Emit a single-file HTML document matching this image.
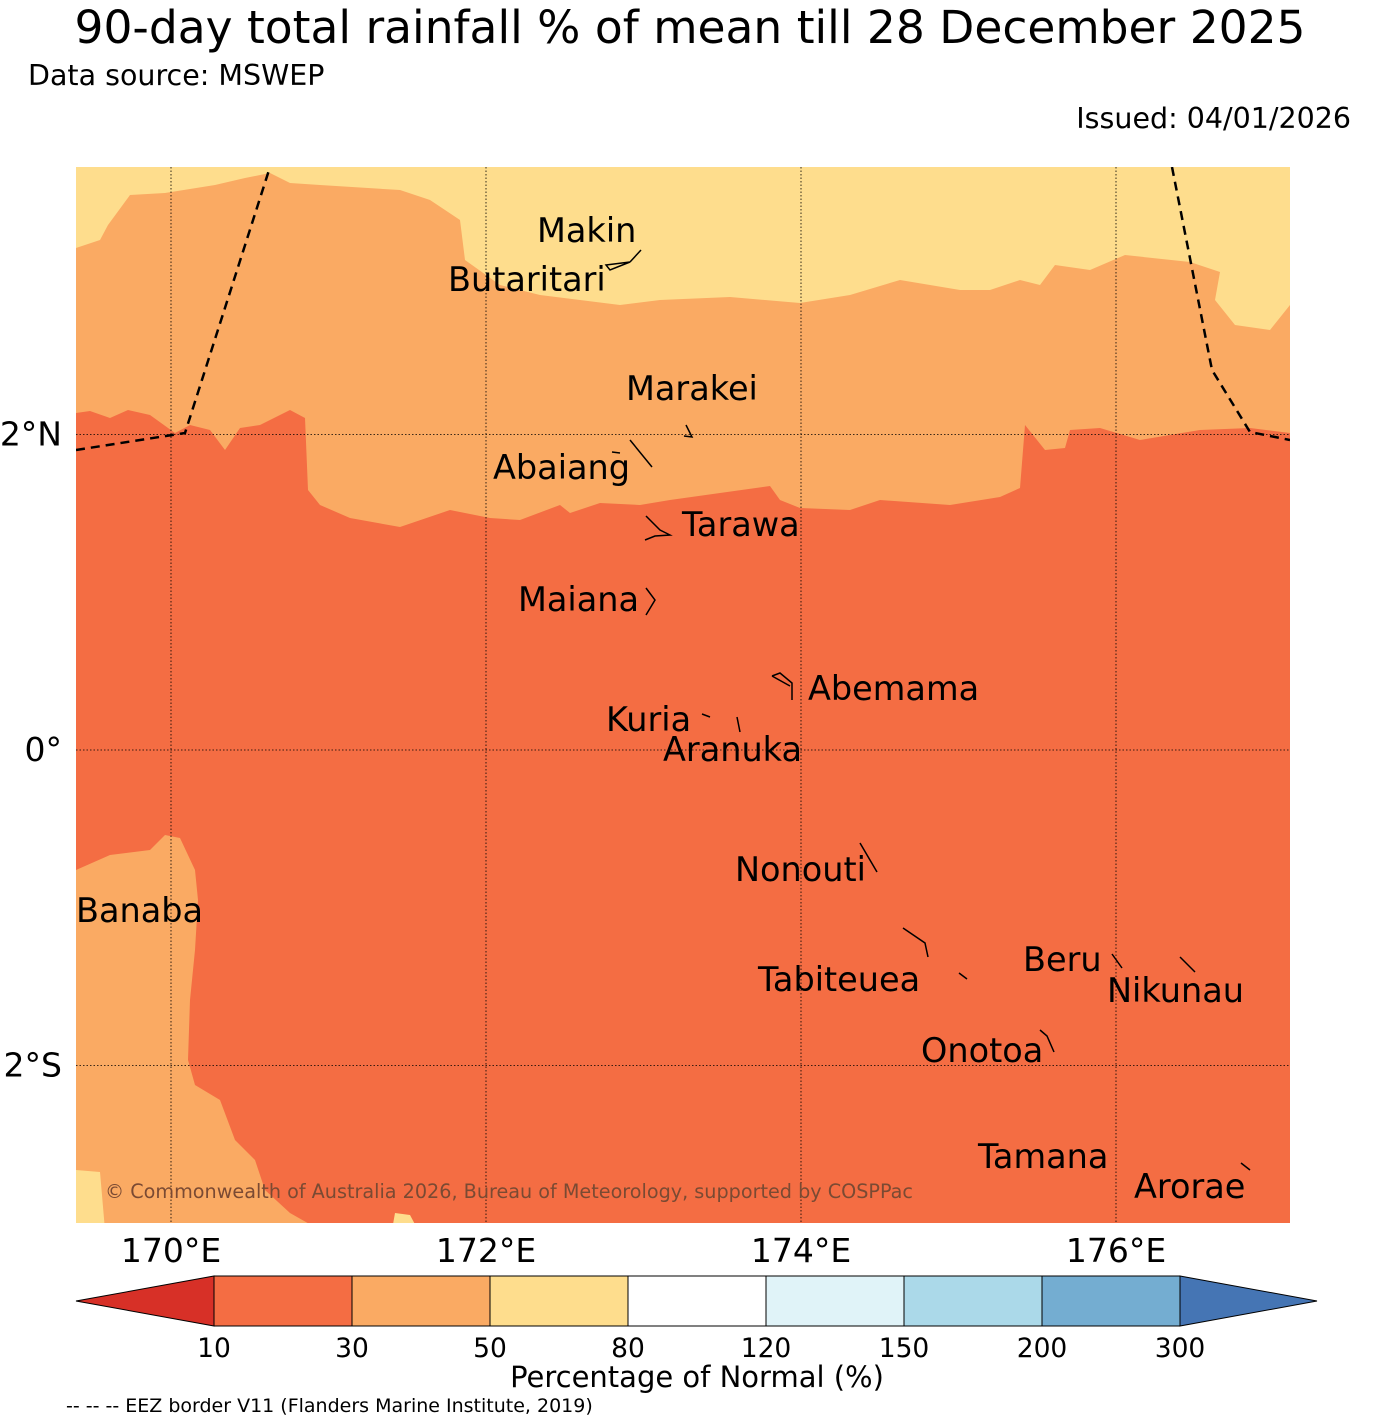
<!DOCTYPE html>
<html><head><meta charset="utf-8">
<style>
body{margin:0;background:#fff;}
svg{display:block;font-family:"DejaVu Sans","Liberation Sans",sans-serif;}
</style></head>
<body>
<svg id="c" width="1380" height="1426" viewBox="0 0 1380 1426" xmlns="http://www.w3.org/2000/svg">
<text x="690" y="43" font-size="45.5" text-anchor="middle">90-day total rainfall % of mean till 28 December 2025</text>
<text x="28" y="85" font-size="28.5">Data source: MSWEP</text>
<text x="1351" y="128" font-size="28.5" text-anchor="end">Issued: 04/01/2026</text>
<defs><clipPath id="mapclip"><rect x="76" y="167" width="1214" height="1056"/></clipPath></defs>
<g clip-path="url(#mapclip)">
<rect x="76" y="167" width="1214" height="1056" fill="#F46D43"/>
<path fill="#FAAA63" d="M76,160 L1290,160 L1290,433 L1250,428 L1200,430 L1140,440 L1100,428 L1070,430 L1065,448 L1045,450 L1025,425 L1020,488 L1000,497 L950,505 L880,500 L850,510 L800,508 L780,500 L770,486 L720,493 L670,500 L640,505 L600,503 L570,513 L560,505 L520,520 L490,518 L450,510 L400,527 L350,518 L320,505 L308,490 L305,418 L290,410 L260,425 L240,428 L225,450 L210,430 L190,425 L175,433 L150,415 L128,410 L110,418 L90,411 L76,413 Z"/>
<path fill="#FEDD8D" d="M76,160 L1290,160 L1290,305 L1270,330 L1235,325 L1215,300 L1220,272 L1190,262 L1125,255 L1090,270 L1055,265 L1040,285 L1020,280 L990,290 L960,290 L900,280 L850,295 L800,303 L730,297 L660,300 L620,305 L540,295 L500,285 L465,260 L460,220 L430,200 L400,190 L320,185 L290,183 L270,173 L245,178 L215,185 L165,193 L130,195 L108,225 L100,240 L76,248 Z"/>
<path fill="#FAAA63" d="M76,870 L110,855 L150,850 L165,835 L180,838 L195,870 L198,900 L195,950 L190,1000 L188,1060 L195,1085 L220,1100 L235,1140 L255,1160 L265,1190 L290,1213 L320,1230 L76,1230 Z"/>
<path fill="#FEDD8D" d="M76,1170 L100,1172 L105,1230 L76,1230 Z M395,1213 L410,1215 L418,1230 L392,1230 Z"/>
<g id="grid" stroke="#000" stroke-width="0.8" stroke-dasharray="1.5,2"></g>
<g fill="none" stroke="#000" stroke-width="2.5" stroke-dasharray="9,6">
<polyline points="76,450 185,433 270,167"/>
<polyline points="1172,167 1212,370 1250,432 1290,440"/>
</g>
<g fill="none" stroke="#000" stroke-width="1.5">
<path d="M606,265 L630,262 L610,270 Z M630,262 L641,250"/>
<path d="M686,425 L692,437 L684,436"/>
<path d="M612,452 L620,453 M630,440 L652,467"/>
<path d="M646,516 L660,530 L670,535 L655,536 L645,540"/>
<path d="M646,588 L655,600 L646,615"/>
<path d="M772,676 L780,673 L792,683 L792,700 M772,676 L790,686"/>
<path d="M702,714 L710,717 M737,717 L740,732"/>
<path d="M860,843 L877,872"/>
<path d="M903,928 L925,943 L928,957 M959,973 L967,979"/>
<path d="M1112,954 L1122,968 M1180,957 L1195,972"/>
<path d="M1040,1030 L1047,1036 L1054,1052"/>
<path d="M1241,1163 L1250,1170"/>
</g>
<text x="105" y="1198" font-size="19.2" fill="#7a4a33">© Commonwealth of Australia 2026, Bureau of Meteorology, supported by COSPPac</text>
<g font-size="33.5">
<text x="537" y="242">Makin</text>
<text x="448" y="291">Butaritari</text>
<text x="626" y="400">Marakei</text>
<text x="493" y="479">Abaiang</text>
<text x="682" y="536">Tarawa</text>
<text x="518" y="611">Maiana</text>
<text x="808" y="700">Abemama</text>
<text x="606" y="731">Kuria</text>
<text x="663" y="761">Aranuka</text>
<text x="735" y="881">Nonouti</text>
<text x="758" y="991">Tabiteuea</text>
<text x="1023" y="971">Beru</text>
<text x="1107" y="1002">Nikunau</text>
<text x="921" y="1062">Onotoa</text>
<text x="76" y="922">Banaba</text>
<text x="978" y="1168">Tamana</text>
<text x="1134" y="1198">Arorae</text>
</g>
</g>
<g id="axislabels" font-size="33"></g>
<g id="cbar"></g>
<text x="697" y="1387" font-size="29" text-anchor="middle">Percentage of Normal (%)</text>
<text x="66" y="1412" font-size="19">-- -- -- EEZ border V11 (Flanders Marine Institute, 2019)</text>
</svg>
<script>
const lonTicks=[170,172,174,176];
const latTicks=[2,0,-2];
const cbarColors=["#F46D43","#FAAA63","#FEDD8D","#FFFFFF","#E0F3F8","#ABD9E9","#74ADD1"];
const cbarLabels=["10","30","50","80","120","150","200","300"];
const NS="http://www.w3.org/2000/svg";
function xLon(l){return 171+(l-170)*157.5;}
function yLat(l){return 750-l*157.75;}
function mk(t,a,p){const e=document.createElementNS(NS,t);for(const k in a)e.setAttribute(k,a[k]);p.appendChild(e);return e;}
const g=document.getElementById('grid'),ax=document.getElementById('axislabels');
lonTicks.forEach(l=>{
 const ln=mk('line',{x1:xLon(l),x2:xLon(l),y1:167,y2:1223},g);
 
 
 const t=mk('text',{x:xLon(l),y:1262,'text-anchor':'middle'},ax);t.textContent=l+'°E';
 
 
});
latTicks.forEach(l=>{
 const ln=mk('line',{x1:76,x2:1290,y1:yLat(l),y2:yLat(l)},g);
 
 
 const t=mk('text',{x:62,y:yLat(l)+11,'text-anchor':'end'},ax);t.textContent=l>0?l+'°N':l<0?(-l)+'°S':'0°';
 
 
});
const cb=document.getElementById('cbar');
const x0=214,w=138,y0=1276,h=50;
const lt=mk('polygon',{points:`76,${y0+h/2} ${x0},${y0} ${x0},${y0+h}`,fill:'#D73027',stroke:'#000','stroke-width':1},cb);


cbarColors.forEach((c,i)=>{
 const r=mk('rect',{x:x0+i*w,y:y0,width:w,height:h,fill:c,stroke:'#000','stroke-width':1},cb);
 
 
});
const xe=x0+cbarColors.length*w;
const rt=mk('polygon',{points:`${xe},${y0} 1317,${y0+h/2} ${xe},${y0+h}`,fill:'#4575B4',stroke:'#000','stroke-width':1},cb);


cbarLabels.forEach((s,i)=>{
 const t=mk('text',{x:x0+i*w,y:1357,'text-anchor':'middle','font-size':26.5},cb);t.textContent=s;
 
 
});
</script>
</body></html>
